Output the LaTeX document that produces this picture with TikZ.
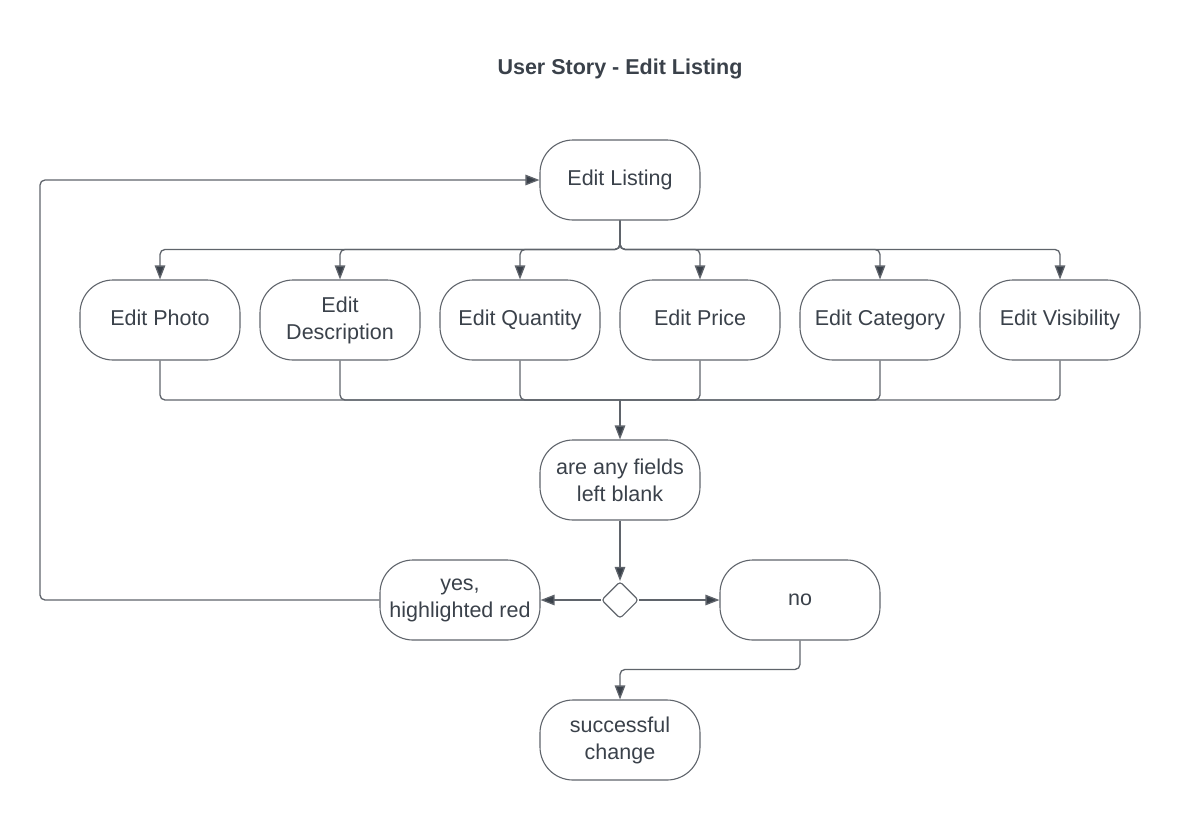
\documentclass[tikz,border=0pt]{standalone}
\usepackage{fontspec}
\setmainfont{Liberation Sans}
\usetikzlibrary{shapes.geometric,arrows.meta,calc}
\definecolor{ink}{HTML}{3A414A}
\definecolor{edge}{HTML}{5F646B}
\tikzset{
  box/.style={draw=edge, line width=1.1pt, rounded corners=33pt, minimum width=160pt, minimum height=80pt,
    align=center, text=ink, font=\fontsize{21.5}{27}\selectfont, inner sep=2pt},
  oneline/.style={text height=15.5pt, text depth=4.5pt},
  conn/.style={draw=edge, line width=1.3pt, rounded corners=5pt},
  arr/.style={conn, -{Triangle[length=14pt,width=10.5pt,fill=ink]}},
  dec/.style={draw=edge, line width=1.1pt, diamond, minimum width=37pt, minimum height=37pt, inner sep=0pt, rounded corners=3pt}
}
\begin{document}
\begin{tikzpicture}[x=1pt,y=-1pt]
\useasboundingbox (0,0) rectangle (1180,820);
\node[text=ink, font=\fontsize{21.5}{27}\selectfont\bfseries] (title) at (620,69) {User Story - Edit Listing};
\node[box,oneline] (L) at (620,180) {Edit Listing};
\node[box,oneline] (b1) at (160,320) {Edit Photo};
\node[box] (b2) at (340,320) {Edit\\Description};
\node[box,oneline] (b3) at (520,320) {Edit Quantity};
\node[box,oneline] (b4) at (700,320) {Edit Price};
\node[box,oneline] (b5) at (880,320) {Edit Category};
\node[box,oneline] (b6) at (1060,320) {Edit Visibility};
\node[box] (Q) at (620,480) {are any fields\\left blank};
\node[dec] (D) at (620,600) {};
\node[box] (Y) at (460,600) {yes,\\highlighted red};
\node[box,oneline] (N) at (800,600) {no};
\node[box] (S) at (620,740) {successful\\change};
\coordinate (j) at (620,400);
\coordinate (lp) at (40,600);
\foreach \b in {b1,b2,b3,b4,b5,b6}{
  \draw[arr] (L.south) |- ([yshift=30pt]\b.north) -- (\b.north);
  \draw[conn] (\b.south) |- (j);
}
\draw[arr] (j) -- (Q.north);
\draw[arr] (Q.south) -- (D.north);
\draw[arr] (D.west) -- (Y.east);
\draw[arr] (D.east) -- (N.west);
\draw[arr] (N.south) |- ([yshift=30pt]S.north) -- (S.north);
\draw[arr] (Y.west) -- (lp) |- (L.west);
\end{tikzpicture}
\end{document}
